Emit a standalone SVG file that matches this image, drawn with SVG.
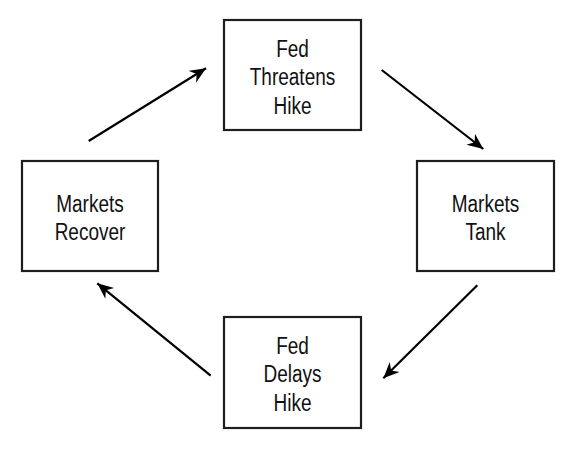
<svg xmlns="http://www.w3.org/2000/svg" width="572" height="463" viewBox="0 0 572 463">
<style>
.box{fill:#fff;stroke:#1e1e1e;stroke-width:2.2}
.lbl{font-family:"Liberation Sans",Arial,sans-serif;font-size:19px;fill:#111;text-anchor:middle}
.arr{stroke:#000;stroke-width:2.2;fill:none;marker-end:url(#ah)}
</style>
<defs>
<marker id="ah" markerUnits="userSpaceOnUse" viewBox="-16 -8 17 16" markerWidth="17" markerHeight="16" refX="0" refY="0" orient="auto">
<path d="M0,0 L-16,-7 L-11,0 L-16,7 Z" fill="#000"/>
</marker>
</defs>
<rect width="572" height="463" fill="#fff"/>
<g id="connectors">
<line class="arr" x1="88.7" y1="141" x2="206" y2="68.3"/>
<line class="arr" x1="381.7" y1="70" x2="483.3" y2="149"/>
<line class="arr" x1="477.3" y1="285.3" x2="383.3" y2="378.3"/>
<line class="arr" x1="210.7" y1="375.7" x2="97.3" y2="283.3"/>
</g>
<g id="fed-threatens-hike">
<rect class="box" x="224" y="20" width="137" height="110"/>
<text class="lbl" transform="translate(292.5,56.5) scale(1,1.3)">Fed</text>
<text class="lbl" transform="translate(292.5,85) scale(1,1.3)">Threatens</text>
<text class="lbl" transform="translate(292.5,113.5) scale(1,1.3)">Hike</text>
</g>
<g id="markets-tank">
<rect class="box" x="417" y="161" width="137" height="110"/>
<text class="lbl" transform="translate(485.5,211.5) scale(1,1.3)">Markets</text>
<text class="lbl" transform="translate(485.5,240) scale(1,1.3)">Tank</text>
</g>
<g id="fed-delays-hike">
<rect class="box" x="224" y="317" width="137" height="111"/>
<text class="lbl" transform="translate(292.5,353.5) scale(1,1.3)">Fed</text>
<text class="lbl" transform="translate(292.5,382) scale(1,1.3)">Delays</text>
<text class="lbl" transform="translate(292.5,410.5) scale(1,1.3)">Hike</text>
</g>
<g id="markets-recover">
<rect class="box" x="22" y="161" width="136" height="110"/>
<text class="lbl" transform="translate(90,211.5) scale(1,1.3)">Markets</text>
<text class="lbl" transform="translate(90,240) scale(1,1.3)">Recover</text>
</g>
</svg>
